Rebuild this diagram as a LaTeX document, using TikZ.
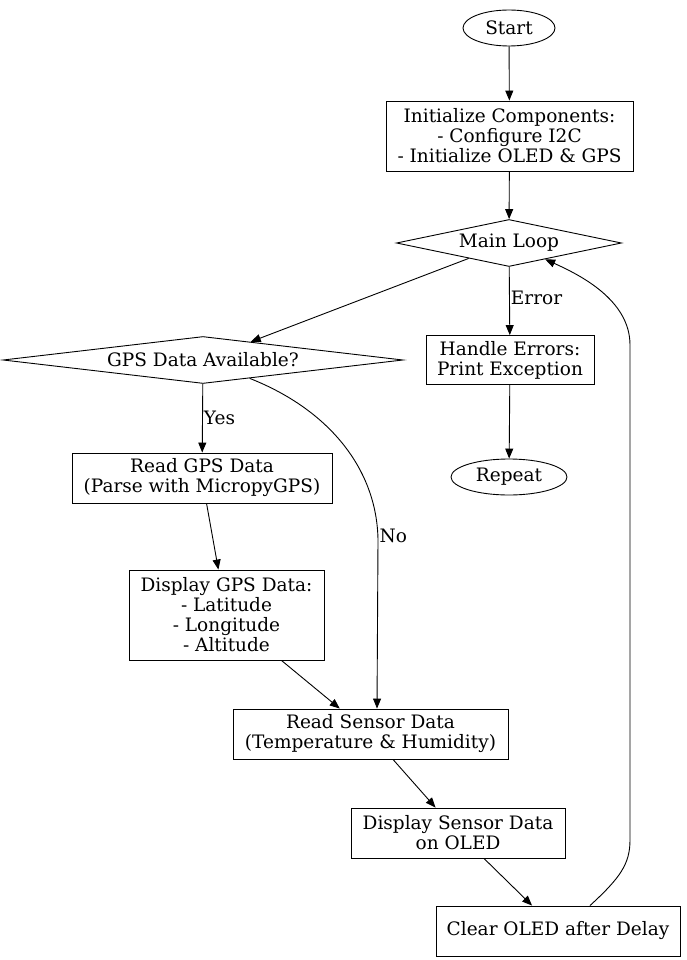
\documentclass[tikz,border=0pt]{standalone}
\usepackage{fontspec}
\setmainfont{DejaVu Serif}
\usetikzlibrary{shapes.geometric,arrows.meta,calc}
\begin{document}
\begin{tikzpicture}[x=1pt,y=-1pt, font=\fontsize{18.5}{20}\selectfont,
 box/.style={draw, rectangle, align=center, inner sep=0pt, line width=0.9pt},
 term/.style={draw, ellipse, inner sep=0pt, line width=0.9pt},
 dec/.style={draw, diamond, inner sep=0pt, line width=0.9pt},
 arr/.style={-{Triangle[length=10pt,width=8pt]}, line width=0.9pt},
 lbl/.style={font=\fontsize{18.5}{20}\selectfont, inner sep=1pt}]
\useasboundingbox (0,0) rectangle (686,960);
\node[term, minimum width=92, minimum height=36] (start) at (509,28) {Start};
\node[box, minimum width=247, minimum height=70] (init) at (509.5,136) {Initialize Components:\\- Configure I2C\\- Initialize OLED \& GPS};
\node[dec, aspect=4.79, minimum width=225, minimum height=47] (main) at (509,243) {Main Loop};
\node[dec, aspect=8.5, minimum width=400, minimum height=47] (gps) at (203,360) {GPS Data Available?};
\node[box, minimum width=168, minimum height=49] (err) at (510,360) {Handle Errors:\\Print Exception};
\node[term, minimum width=116, minimum height=36] (rep) at (509,477) {Repeat};
\node[box, minimum width=260, minimum height=50] (rgps) at (202,478) {Read GPS Data\\(Parse with MicropyGPS)};
\node[box, minimum width=195, minimum height=90] (dgps) at (226.5,615) {Display GPS Data:\\- Latitude\\- Longitude\\- Altitude};
\node[box, minimum width=275, minimum height=50] (rsens) at (370.5,734) {Read Sensor Data\\(Temperature \& Humidity)};
\node[box, minimum width=214, minimum height=50] (dsens) at (458,833) {Display Sensor Data\\on OLED};
\node[box, minimum width=244, minimum height=50] (clear) at (558,931) {Clear OLED after Delay};

\draw[arr] (start) -- (init);
\draw[arr] (init) -- (main);
\draw[arr] (main) -- (gps);
\draw[arr] (main) -- node[lbl, anchor=west, pos=0.45] {Error} (err);
\draw[arr] (gps) -- node[lbl, anchor=west, pos=0.5] {Yes} (rgps);
\draw[arr] (gps) .. controls (330,410) and (377,470) .. (378,540) -- ($(rsens.north)+(6.5,0)$);
\node[lbl, anchor=west] (nolbl) at (378.5,536) {No};
\draw[arr] (err) -- (rep);
\draw[arr] (rgps) -- (dgps);
\draw[arr] (dgps) -- (rsens);
\draw[arr] (rsens) -- (dsens);
\draw[arr] (dsens) -- (clear);
\draw[arr] ($(clear.north)+(32,0)$) .. controls (620,878) and (630,864) .. (630,840) -- (630,345) .. controls (630,300) and (580,275) .. (main);
\end{tikzpicture}
\end{document}
